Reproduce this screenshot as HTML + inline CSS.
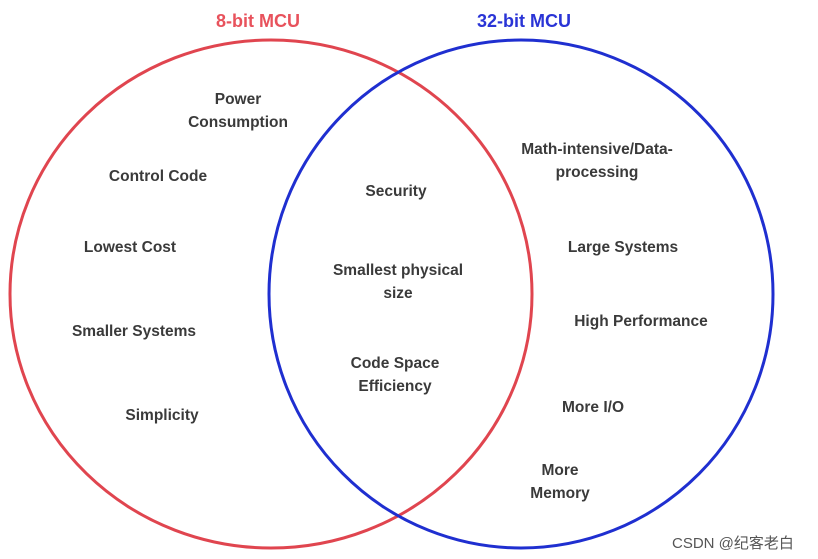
<!DOCTYPE html>
<html><head><style>
body{margin:0;background:#fff;width:818px;height:559px;overflow:hidden;position:relative;font-family:"Liberation Sans","Noto Sans CJK SC",sans-serif}
.t{position:absolute;transform:translateX(-50%);text-align:center;font-weight:bold;color:#3a3a3a;font-size:15.5px;line-height:23px;white-space:nowrap}
</style></head><body>
<svg width="818" height="559" style="position:absolute;left:0;top:0">
<ellipse cx="271" cy="294" rx="261" ry="254" fill="none" stroke="#e0454f" stroke-width="3"/>
<ellipse cx="521" cy="294" rx="252" ry="254" fill="none" stroke="#1f2fd0" stroke-width="3"/>
</svg>
<div class="t" style="left:258px;top:10px;color:#e8525c;font-size:18px">8-bit MCU</div>
<div class="t" style="left:524px;top:10px;color:#2a34d6;font-size:18px">32-bit MCU</div>
<div class="t" style="left:238px;top:88px">Power<br>Consumption</div>
<div class="t" style="left:158px;top:165px">Control Code</div>
<div class="t" style="left:130px;top:236px">Lowest Cost</div>
<div class="t" style="left:134px;top:320px">Smaller Systems</div>
<div class="t" style="left:162px;top:404px">Simplicity</div>
<div class="t" style="left:396px;top:180px">Security</div>
<div class="t" style="left:398px;top:259px">Smallest physical<br>size</div>
<div class="t" style="left:395px;top:352px">Code Space<br>Efficiency</div>
<div class="t" style="left:597px;top:138px">Math-intensive/Data-<br>processing</div>
<div class="t" style="left:623px;top:236px">Large Systems</div>
<div class="t" style="left:641px;top:310px">High Performance</div>
<div class="t" style="left:593px;top:396px">More I/O</div>
<div class="t" style="left:560px;top:459px">More<br>Memory</div>
<div style="position:absolute;left:672px;top:532px;font-size:15px;color:#555">CSDN @纪客老白</div>
</body></html>
